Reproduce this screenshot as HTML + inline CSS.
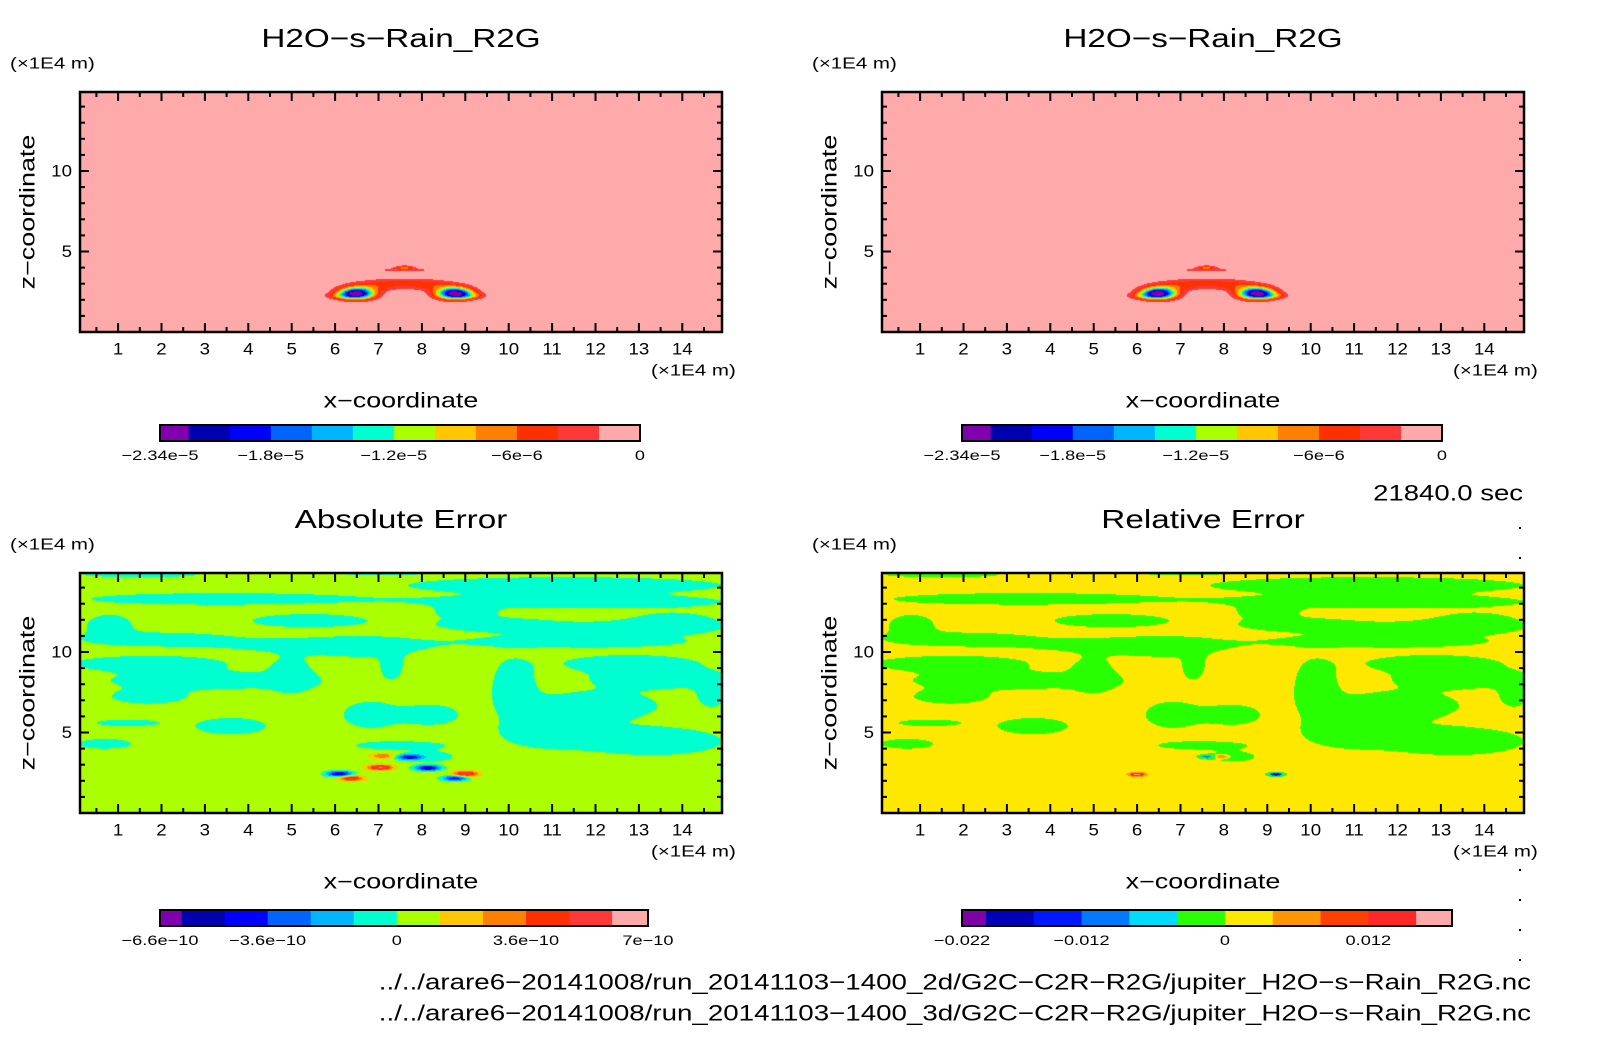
<!DOCTYPE html>
<html><head><meta charset="utf-8">
<style>
html,body{margin:0;padding:0;background:#fff;}
#root{position:relative;width:1604px;height:1054px;overflow:hidden;font-family:"Liberation Sans",sans-serif;}
canvas{position:absolute;}
svg{position:absolute;left:0;top:0;}
</style></head>
<body>
<div id="root">
<canvas id="c0" width="642" height="240" style="left:80px;top:92px"></canvas>
<canvas id="c1" width="642" height="240" style="left:882px;top:92px"></canvas>
<canvas id="c2" width="642" height="240" style="left:80px;top:573px"></canvas>
<canvas id="c3" width="642" height="240" style="left:882px;top:573px"></canvas>
<svg id="svg" width="1604" height="1054"></svg>
</div>
<script>
// ---- data ----
const topLevels = [-23.4e-6,-22e-6,-20e-6,-18e-6,-16e-6,-14e-6,-12e-6,-10e-6,-8e-6,-6e-6,-4e-6,-2e-6,0];
const topColors = ["#8000b0","#0000b0","#0000ff","#0064ff","#00b4ff","#00ffd0","#aaff00","#ffc800","#ff8000","#ff3000","#ff3838","#ffaaaa"];
const topTickVals = [-23.4e-6,-18e-6,-12e-6,-6e-6,0];
const topTickLabels = ["\u22122.34e\u22125","\u22121.8e\u22125","\u22121.2e\u22125","\u22126e\u22126","0"];
const absLevels = [-6.6e-10,-6e-10,-4.8e-10,-3.6e-10,-2.4e-10,-1.2e-10,0,1.2e-10,2.4e-10,3.6e-10,4.8e-10,6e-10,7e-10];
const absColors = topColors;
const absTickVals = [-6.6e-10,-3.6e-10,0,3.6e-10,7e-10];
const absTickLabels = ["\u22126.6e\u221210","\u22123.6e\u221210","0","3.6e\u221210","7e\u221210"];
const relLevels = [-0.022,-0.02,-0.016,-0.012,-0.008,-0.004,0,0.004,0.008,0.012,0.016,0.019];
const relColors = ["#8000a8","#0000b8","#0018ff","#0078ff","#00dcff","#28ff00","#ffe800","#ff9600","#ff4000","#ff2828","#ffaaaa"];
const relTickVals = [-0.022,-0.012,0,0.012];
const relTickLabels = ["\u22120.022","\u22120.012","0","0.012"];

// top field blobs (x, z in 1E4 m)
const topBlobX  = [6.5, 8.75, 6.9, 7.6, 8.3, 7.6, 7.6, 6.15, 9.1];
const topBlobZ  = [2.4, 2.4, 2.85, 3.1, 2.85, 3.85, 4.0, 2.25, 2.25];
const topBlobSx = [0.28, 0.28, 0.45, 0.6, 0.45, 0.75, 0.15, 0.25, 0.25];
const topBlobSz = [0.25, 0.25, 0.22, 0.2, 0.22, 0.1, 0.09, 0.14, 0.14];
const topBlobAmp= [-2.4e-5,-2.4e-5,-4e-6,-3.2e-6,-4e-6,-2.5e-6,-6e-6,-4.5e-6,-4.5e-6];

// error-field patches (shared layout)
const patchX = [11.3,1.5,3.2,11.6,0.8,5.4,5.7,1.9,9.7,11.6,12.8,1.7,3.1,5.0,6.8,7.3,8.2,10.1,10.8,12.0,13.3,12.8,13.5,14.7,3.6,0.7,1.7,9.0,13.8,6.6,7.5,8.2,1.2,7.0];
const patchZ = [14.15,14.8,13.3,13.1,11.7,11.95,10.4,10.8,11.7,10.65,11.5,9.3,8.2,8.6,6.1,9.2,6.1,7.9,5.05,6.7,4.45,9.3,8.3,7.45,5.4,4.3,7.2,12.5,11.9,10.3,4.2,3.5,5.6,14.9];
const patchW = [3.6,1.3,2.8,3.2,0.5,1.3,1.9,1.6,1.3,2.4,1.6,1.7,2.2,0.4,0.6,0.25,0.6,0.45,0.9,1.4,1.6,1.5,1.4,0.3,0.8,0.6,0.8,0.6,0.9,0.9,1.0,0.5,0.7,1.0];
const patchH = [0.5,0.15,0.35,0.35,0.6,0.4,0.4,0.4,0.4,0.35,0.35,0.45,0.5,1.0,0.8,0.8,0.6,1.5,0.85,0.8,0.85,0.5,0.5,0.75,0.5,0.3,0.4,0.35,0.5,0.5,0.25,0.3,0.2,0.1];
const absBg = 0.6e-10, absPatchAmp = -1.2e-10;
const relBg = 0.002, relPatchAmp = -0.004;

const absCoreX = [6.1,7.04,8.14,9.0,6.37,8.76,7.1,7.7];
const absCoreZ = [2.43,2.83,2.8,2.43,2.16,2.16,3.55,3.47];
const absCoreAmp = [-6.2e-10,5.5e-10,-6.2e-10,5.5e-10,4.5e-10,-5e-10,3e-10,-5e-10];
const relCoreX = [6.0,7.6,7.95,9.2];
const relCoreZ = [2.4,3.5,3.5,2.4];
const relCoreAmp = [0.016,-0.011,0.009,-0.021];

// ---- axes ----
const X0 = 74.7, XS = 43.4, ZB = 332, ZS = 16.1;
function xPix(x){ return X0 + XS*x; }
function zPix(z){ return ZB - ZS*z; }
const PW=642, PH=240, PL=80, PT=92;

function colorIndex(levels, v){
  let n = levels.length-1;
  for(let i=0;i<n;i++){ if(v < levels[i+1]) return i; }
  return n-1;
}
function hex(c){ return [parseInt(c.substr(1,2),16),parseInt(c.substr(3,2),16),parseInt(c.substr(5,2),16)]; }

function patchSum(x,z){
  let s=0;
  for(let i=0;i<patchX.length;i++){
    const dx=(x-patchX[i])/patchW[i], dz=(z-patchZ[i])/patchH[i];
    s += Math.exp(-0.6931*(dx*dx+dz*dz));
  }
  return Math.min(s,1);
}
function coreSum(x,z,cx,cz,ca,sx,sz){
  let s=0;
  for(let i=0;i<cx.length;i++){
    const dx=(x-cx[i])/sx, dz=(z-cz[i])/sz;
    s += ca[i]*Math.exp(-0.5*(dx*dx+dz*dz));
  }
  return s;
}
function topField(x,z){
  let s=0;
  for(let i=0;i<topBlobX.length;i++){
    const dx=(x-topBlobX[i])/topBlobSx[i], dz=(z-topBlobZ[i])/topBlobSz[i];
    s += topBlobAmp[i]*Math.exp(-0.5*(dx*dx+dz*dz));
  }
  return s;
}
function absField(x,z){ return absBg + absPatchAmp*patchSum(x,z) + coreSum(x,z,absCoreX,absCoreZ,absCoreAmp,0.2,0.12); }
function relField(x,z){ return relBg + relPatchAmp*patchSum(x,z) + coreSum(x,z,relCoreX,relCoreZ,relCoreAmp,0.12,0.08); }

function paint(id, fn, levels, colors){
  const cv=document.getElementById(id), ctx=cv.getContext('2d');
  const img=ctx.createImageData(PW,PH);
  const rgb=colors.map(hex);
  for(let py=0;py<PH;py++){
    const z=(ZB-(PT+py+0.5))/ZS;
    for(let px=0;px<PW;px++){
      const x=(PL+px+0.5-X0)/XS;
      const c=rgb[colorIndex(levels,fn(x,z))];
      const k=(py*PW+px)*4;
      img.data[k]=c[0];img.data[k+1]=c[1];img.data[k+2]=c[2];img.data[k+3]=255;
    }
  }
  ctx.putImageData(img,0,0);
}
paint('c0',topField,topLevels,topColors);
paint('c1',topField,topLevels,topColors);
paint('c2',absField,absLevels,absColors);
paint('c3',relField,relLevels,relColors);

// ---- svg annotations ----
const svg=document.getElementById('svg');
const NS='http://www.w3.org/2000/svg';
function mk(tag, attrs, parent){
  const e=document.createElementNS(NS,tag);
  for(const k in attrs) e.setAttribute(k,attrs[k]);
  (parent||svg).appendChild(e);
  return e;
}
function txt(s,x,y,size,anchor,parent,stretch){
  const t=mk('text',{x:x,y:y,'font-size':size,'text-anchor':anchor||'middle','dominant-baseline':'central',fill:'#000','font-family':'Liberation Sans, sans-serif'},parent);
  t.textContent=s;
  if(stretch){
    const w=t.getComputedTextLength();
    t.setAttribute('textLength',(w*stretch).toFixed(1));
    t.setAttribute('lengthAdjust','spacingAndGlyphs');
  }
  return t;
}
const SW=1.28;
const panels=[
  {dx:0,dy:0,title:"H2O\u2212s\u2212Rain_R2G",name:'top-left'},
  {dx:802,dy:0,title:"H2O\u2212s\u2212Rain_R2G",name:'top-right'},
  {dx:0,dy:481,title:"Absolute Error",name:'absolute-error'},
  {dx:802,dy:481,title:"Relative Error",name:'relative-error'}
];
const xTickVals=[1,2,3,4,5,6,7,8,9,10,11,12,13,14];
const zTickVals=[5,10];
panels.forEach(p=>{
  const g=mk('g',{transform:`translate(${p.dx},${p.dy})`});
  
  
  const t=txt(p.title,401,38,26,'middle',g,SW);
  
  
  const u=txt("(\u00d71E4 m)",10,64,16,'start',g,SW);
  
  
  const u2=txt("(\u00d71E4 m)",651,371,16,'start',g,SW);
  
  
  const xt=txt("x\u2212coordinate",401,401,21,'middle',g,SW);
  
  
  const yt=txt("z\u2212coordinate",0,0,21,'middle',g,SW);
  yt.setAttribute('transform','translate(28,212) rotate(-90)');
  
  
  for(let v=0.5; v<15; v+=0.5){
    const px=xPix(v); if(px<=PL+1||px>=PL+PW-1) continue;
    const major=Number.isInteger(v), L=major?9:5;
    const a=mk('line',{x1:px,y1:PT+PH,x2:px,y2:PT+PH-L,stroke:'#000','stroke-width':2},g);
    
    
    const b=mk('line',{x1:px,y1:PT,x2:px,y2:PT+L,stroke:'#000','stroke-width':2},g);
    
    
  }
  for(let v=1; v<15; v+=1){
    const py=zPix(v); if(py<=PT+1) continue;
    const major=(v%5===0), L=major?9:5;
    const a=mk('line',{x1:PL,y1:py,x2:PL+L,y2:py,stroke:'#000','stroke-width':2},g);
    
    
    const b=mk('line',{x1:PL+PW,y1:py,x2:PL+PW-L,y2:py,stroke:'#000','stroke-width':2},g);
    
    
  }
  xTickVals.forEach(v=>{
    const l=txt(String(v),xPix(v),349,17,'middle',g,1.1);
    
    
  });
  zTickVals.forEach(v=>{
    const l=txt(String(v),72,zPix(v),17,'end',g,1.1);
    
    
  });
  const fr=mk('rect',{x:PL,y:PT,width:PW,height:PH,fill:'none',stroke:'#000','stroke-width':2.5},g);
  
  
});

function colorbar(x0,x1,y,levels,colors,tickVals,tickLabels,name){
  const g=mk('g',{});
  
  
  const lo=levels[0], hi=levels[levels.length-1];
  const sc=v=>x0+(v-lo)/(hi-lo)*(x1-x0);
  for(let i=0;i<colors.length;i++){
    const r=mk('rect',{x:sc(levels[i]),y:y,width:sc(levels[i+1])-sc(levels[i])+0.5,height:16,fill:colors[i]},g);
    
    
  }
  const f=mk('rect',{x:x0,y:y,width:x1-x0,height:16,fill:'none',stroke:'#000','stroke-width':2},g);
  
  
  tickVals.forEach((v,i)=>{
    const t=txt(tickLabels[i],sc(v),y+30,14,'middle',g,1.3);
    
    
  });
}
colorbar(160,640,425,topLevels,topColors,topTickVals,topTickLabels,'colorbar-top-left');
colorbar(962,1442,425,topLevels,topColors,topTickVals,topTickLabels,'colorbar-top-right');
colorbar(160,648,910,absLevels,absColors,absTickVals,absTickLabels,'colorbar-absolute-error');
colorbar(962,1452,910,relLevels,relColors,relTickVals,relTickLabels,'colorbar-relative-error');

const tm=txt("21840.0 sec",1523,493,22,'end',null,1.25);


const f1=txt("../../arare6\u221220141008/run_20141103\u22121400_2d/G2C\u2212C2R\u2212R2G/jupiter_H2O\u2212s\u2212Rain_R2G.nc",1531,982,22,'end',null,1.26);


const f2=txt("../../arare6\u221220141008/run_20141103\u22121400_3d/G2C\u2212C2R\u2212R2G/jupiter_H2O\u2212s\u2212Rain_R2G.nc",1531,1013,22,'end',null,1.26);


[527,557,869,899,929,959].forEach(y=>{
  const d=mk('rect',{x:1519,y:y,width:2,height:2,fill:'#000'});
  
  
});
</script>
</body></html>
